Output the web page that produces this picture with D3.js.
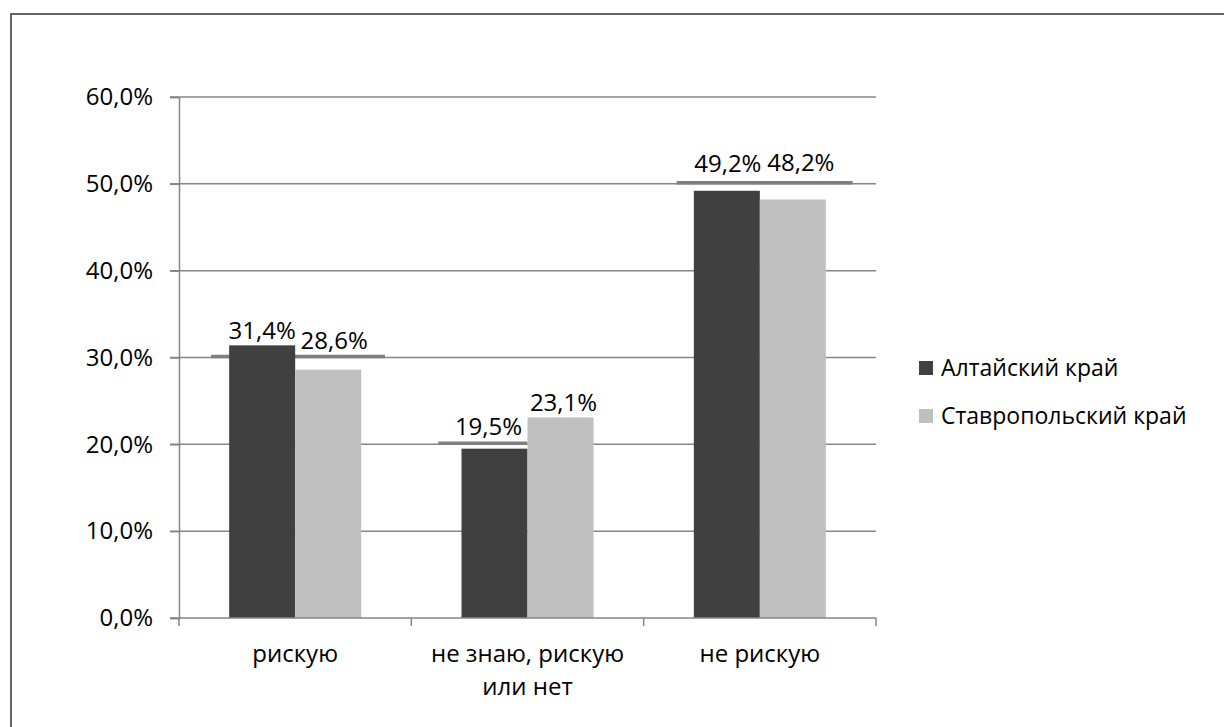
<!DOCTYPE html>
<html>
<head>
<meta charset="utf-8">
<script src="https://cdn.jsdelivr.net/npm/d3@7"></script>
<style>
  html, body { margin: 0; padding: 0; background: #fff; }
  svg { display: block; }
  text { font-family: "Open Sans", "Noto Sans", sans-serif; fill: #000; }
</style>
</head>
<body>
<svg id="chart" width="1224" height="727"></svg>
<script>
// ---- data ----
const categories = ["рискую", "не знаю, рискую|или нет", "не рискую"];
const seriesNames = ["Алтайский край", "Ставропольский край"];
const altai = [0.314, 0.195, 0.492];
const stavropol = [0.286, 0.231, 0.482];
const yTicks = [0, 0.1, 0.2, 0.3, 0.4, 0.5, 0.6];
const labelTexts = [["31,4%", "19,5%", "49,2%"], ["28,6%", "23,1%", "48,2%"]];
const emphasisLevels = [0.3, 0.2, 0.5];

// ---- layout / style ----
const colors = ["#404040", "#bfbfbf"];
const gridColor = "#868686";
const labelNudge = [[[0, 6], [-6, 14], [1, 19]], [[6, 21], [3, 6], [8, 28]]]; // [dx, dy above bar top]
const emphasisExtent = [[32, 206], [27, 116], [33, 209]]; // offsets within band

const svg = d3.select("#chart");

// frame (only top and left edges visible)
svg.append("path")
  .attr("d", "M11,727 L11,14 L1224,14")
  .attr("fill", "none").attr("stroke", "#333").attr("stroke-width", 1.5);

const plotLeft = 179, plotRight = 876, plotTop = 97, plotBottom = 618;

const x0 = d3.scaleBand().domain(d3.range(categories.length)).range([plotLeft, plotRight]).padding(0);
const x1 = d3.scaleBand().domain(d3.range(seriesNames.length)).range([0, x0.bandwidth()])
  .paddingInner(0).paddingOuter(0.76);
const y = d3.scaleLinear().domain([0, 0.6]).range([plotBottom, plotTop]);

const fmt = v => d3.format(".1f")(v * 100).replace(".", ",") + "%";

// gridlines
svg.append("g").selectAll("line").data(yTicks.filter(t => t > 0)).join("line")
  .attr("x1", plotLeft - 9).attr("x2", plotRight)
  .attr("y1", d => y(d)).attr("y2", d => y(d))
  .attr("stroke", gridColor).attr("stroke-width", 1.5);

// y axis
const yAxis = svg.append("g").attr("transform", `translate(${plotLeft},0)`)
  .call(d3.axisLeft(y).tickValues(yTicks).tickSize(9).tickPadding(17).tickFormat(fmt));
yAxis.select(".domain").attr("stroke", gridColor).attr("stroke-width", 1.5);
yAxis.selectAll(".tick line").attr("stroke", gridColor).attr("stroke-width", 1.5);
yAxis.selectAll(".tick text").attr("font-size", 24).attr("font-family", "Open Sans").attr("fill", "#000");

// emphasis segments (darker thick gridline parts under labels)
svg.append("g").selectAll("line").data(emphasisLevels).join("line")
  .attr("x1", (d, i) => x0(i) + emphasisExtent[i][0]).attr("x2", (d, i) => x0(i) + emphasisExtent[i][1])
  .attr("y1", d => y(d) - 1).attr("y2", d => y(d) - 1)
  .attr("stroke", "#7f7f7f").attr("stroke-width", 3.5);

// bars
const values = [altai, stavropol];
const groups = svg.append("g").selectAll("g").data(categories).join("g")
  .attr("transform", (d, i) => `translate(${x0(i)},0)`);
groups.selectAll("rect").data((d, i) => values.map((s, k) => ({ k, v: s[i] }))).join("rect")
  .attr("x", d => x1(d.k)).attr("width", x1.bandwidth())
  .attr("y", d => y(d.v)).attr("height", d => y(0) - y(d.v))
  .attr("fill", d => colors[d.k]);

// x axis
const xAxisG = svg.append("g");
xAxisG.append("line").attr("x1", plotLeft - 9).attr("x2", plotRight).attr("y1", plotBottom).attr("y2", plotBottom)
  .attr("stroke", gridColor).attr("stroke-width", 1.5);
const tickXs = d3.range(categories.length).map(i => x0(i)).concat([x0(categories.length - 1) + x0.bandwidth()]);
xAxisG.selectAll("line.t").data(tickXs).join("line").attr("class", "t")
  .attr("x1", d => d).attr("x2", d => d).attr("y1", plotBottom).attr("y2", plotBottom + 8)
  .attr("stroke", gridColor).attr("stroke-width", 1.5);

// category labels
categories.forEach((c, i) => {
  const lines = c.split("|");
  const t = svg.append("text").attr("text-anchor", "middle").attr("font-size", 24)
    .attr("x", x0(i) + x0.bandwidth() / 2).attr("y", 662);
  lines.forEach((ln, j) => {
    t.append("tspan").attr("x", x0(i) + x0.bandwidth() / 2).attr("dy", j === 0 ? 0 : 33).text(ln);
  });
});

// data labels
values.forEach((s, k) => {
  s.forEach((v, i) => {
    const nd = labelNudge[k][i];
    svg.append("text").attr("text-anchor", "middle").attr("font-size", 24)
      .attr("x", x0(i) + x1(k) + x1.bandwidth() / 2 + nd[0])
      .attr("y", y(v) - nd[1])
      .text(labelTexts[k][i]);
  });
});

// legend
const legend = svg.append("g").selectAll("g").data(seriesNames).join("g")
  .attr("transform", (d, i) => `translate(919, ${361 + i * 48})`);
legend.append("rect").attr("width", 14).attr("height", 14).attr("fill", (d, i) => colors[i]);
legend.append("text").attr("x", 22).attr("y", 15).attr("font-size", 23).text(d => d);
</script>
</body>
</html>
